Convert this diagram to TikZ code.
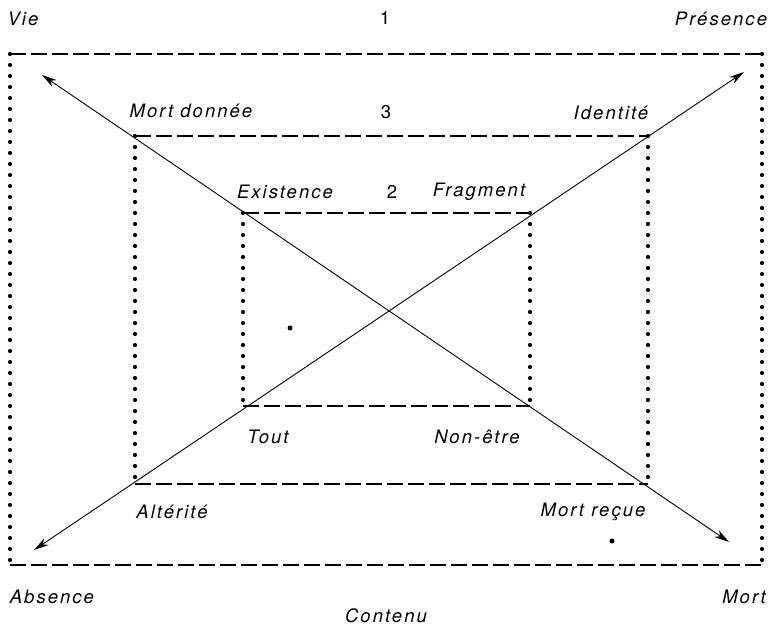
\documentclass[tikz,border=0pt]{standalone}
\usepackage{fontspec}
\setmainfont{TeX Gyre Heros}[LetterSpace=11]
\usetikzlibrary{arrows.meta}
\tikzset{
  hdash/.style={line width=1.8pt, dash pattern=on 16pt off 5pt},
  vdot/.style={line width=4.2pt, line cap=round, dash pattern=on 0pt off 11pt},
  diag/.style={line width=0.9pt, {Stealth[length=15pt,width=8pt]}-{Stealth[length=15pt,width=8pt]}},
  lbl/.style={font=\itshape\fontsize{18.5}{20}\selectfont, inner sep=0pt},
  num/.style={font=\fontsize{18.5}{20}\selectfont, inner sep=0pt},
}
\begin{document}
\begin{tikzpicture}[x=1pt,y=-1pt]
%    \draw[help lines] (0,0) grid[step=50] (776,629);
    \useasboundingbox (0,0) rectangle (776,629);
    \coordinate(o-nw) at (10,54);   \coordinate(o-ne) at (762,54);
    \coordinate(o-sw) at (10,565);  \coordinate(o-se) at (762,565);
    \coordinate(m-nw) at (135,136); \coordinate(m-ne) at (648,136);
    \coordinate(m-sw) at (135,484); \coordinate(m-se) at (648,484);
    \coordinate(i-nw) at (243,213); \coordinate(i-ne) at (530,213);
    \coordinate(i-sw) at (243,406); \coordinate(i-se) at (530,406);

    \draw[hdash] (o-nw) -- (o-ne);  \draw[hdash] (o-sw) -- (o-se);
    \draw[vdot]  (o-nw) -- (o-sw);  \draw[vdot]  (o-ne) -- (o-se);
    \draw[hdash] (m-nw) -- (m-ne);  \draw[hdash] (m-sw) -- (m-se);
    \draw[vdot]  (m-nw) -- (m-sw);  \draw[vdot]  (m-ne) -- (m-se);
    \draw[hdash] (i-nw) -- (i-ne);  \draw[hdash] (i-sw) -- (i-se);
    \draw[vdot]  (i-nw) -- (i-sw);  \draw[vdot]  (i-ne) -- (i-se);

    \coordinate(vie-tip)      at (42,75);
    \coordinate(mort-tip)     at (729,542);
    \coordinate(absence-tip)  at (34,550);
    \coordinate(presence-tip) at (744,72);
    \draw[diag] (vie-tip) -- (mort-tip);
    \draw[diag] (absence-tip) -- (presence-tip);

    \node[lbl](vie)       at (23,19)   {Vie};
    \node[num](un)        at (385,18)  {1};
    \node[lbl](presence)  at (721,19)  {Présence};
    \node[lbl](mort-d)    at (191,111) {Mort donnée};
    \node[num](trois)     at (386,112) {3};
    \node[lbl](identite)  at (611,113) {Identité};
    \node[lbl](existence) at (285,192) {Existence};
    \node[num](deux)      at (392,192) {2};
    \node[lbl](fragment)  at (479,192) {Fragment};
    \node[lbl](tout)      at (268,437) {Tout};
    \node[lbl](non-etre)  at (477,437) {Non-être};
    \node[lbl](alterite)  at (172,512) {Altérité};
    \node[lbl](mort-r)    at (593,512) {Mort reçue};
    \node[lbl](absence)   at (52,597)  {Absence};
    \node[lbl](mort)      at (744,597) {Mort};
    \node[lbl](contenu)   at (386,616) {Contenu};

    \fill (290,328) circle (2.5);
    \fill (612,541) circle (2.5);
\end{tikzpicture}
\end{document}
